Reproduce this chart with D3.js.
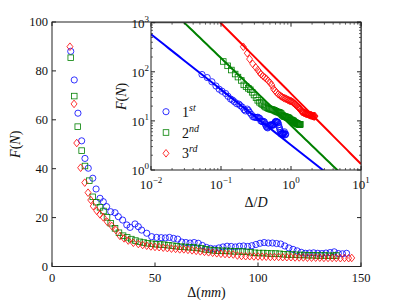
<!DOCTYPE html>
<html><head><meta charset="utf-8">
<script src="https://cdn.jsdelivr.net/npm/d3@7"></script>
<style>body{margin:0;background:#fff} text{font-family:"Liberation Serif","DejaVu Serif",serif;fill:#111}</style>
</head><body><svg id="c" width="399" height="300"></svg>
<script>
// ---------- data (main plot: Δ in mm, F in N) ----------
const blueD = [9.1,10.8,12.6,14.4,16.0,17.6,19.8,21.4,23.3,24.9,26.5,28.5,30.6,32.2,34.3,36.3,37.9,40.3,41.9,43.5,46.0,48.4,50.8,53,55,57,59,61,63,65,67,69,71,73,75,77,79,81,83,85,87,89,91,93,95,97,99,101,103,105,107,109,111,113,115,117,119,121,123,125,127,129,131,133,135,137,139,141,143];
const blueF = [88,76.3,62.7,51.4,44.2,40.2,36.1,31.7,27.9,26.5,24.5,22.4,22.0,20.4,19.0,17.0,16.0,17.4,16.3,14.9,13.6,12.2,11.9,11.8,11.7,11.9,11.5,11.2,10.0,9.8,9.6,9.8,9.5,8.6,7.8,7.4,7.2,7.6,8.0,8.3,8.2,8.0,8.3,8.4,8.2,8.5,9.0,9.5,9.8,9.6,9.6,9.4,9.2,8.4,7.6,7.0,6.4,5.8,5.4,5.5,5.6,5.4,5.3,5.5,5.7,6.0,5.3,5.2,5.4];
const greenD = [9.1,10.8,12.5,14.4,16.0,18.1,19.8,21.5,23.3,25.0,26.7,28.5,30.6,32.5,34.5,36.5,38.5,40.5,42.5,44.5,46.5,48.5,50.5,52.5,54.5,56.5,58.5,60.5,62.5,64.5,66.5,68.5,70.5,72.5,74.5,76.5,78.5,80.5,82.5,84.5,86.5,88.5,90.5,92.5,94.5,96.5,98.5,100.5,102.5,104.5,106.5,108.5,110.5,112.5,114.5,116.5,118.5,120.5,122.5,124.5,126.5,128.5,130.5,132.5,134.5,136.5,138];
const greenF = [85.4,69.7,57.2,47.4,41.1,35.1,28.5,26.3,24.2,22.7,20.1,17.7,15.6,13.8,12.6,11.9,11.2,10.6,10.1,9.8,9.5,9.3,9.1,9.0,8.9,8.7,8.5,8.3,8.1,8.0,7.9,7.8,7.6,7.4,7.0,6.8,6.6,6.5,6.4,6.4,6.3,6.2,6.2,6.1,6.0,5.8,5.6,5.5,5.5,5.4,5.3,5.3,5.2,5.0,4.9,4.9,4.8,4.7,4.7,4.6,4.6,4.5,4.5,4.5,4.4,4.4,4.5];
const redD = [8.7,10.7,12.0,13.9,15.9,17.5,18.8,20.0,21.7,23.3,24.9,26.8,29.0,31.0,33.0,35.0,37.0,39.5,41.9,44,46,48,50,52,54,56,58,60,62,64,66,68,70,72,74,76,78,80,82,84,86,88,90,92,94,96,98,100,102,104,106,108,110,112,114,116,118,120,122,124,126,128,130,132,134,136,138,140,142,144,145.5];
const redF = [89.9,66.5,50.5,40.4,34.3,30.2,27.2,24.7,22.8,21.3,20.1,18.3,16.6,14.9,12.5,11.5,10.6,9.7,9.2,8.8,8.5,8.2,8.0,7.9,7.7,7.5,7.3,7.2,7.0,7.0,6.8,6.6,6.4,6.2,6.0,5.8,5.6,5.4,5.2,5.1,5.0,4.9,4.5,4.3,4.2,4.2,4.1,4.1,4.0,4.0,3.9,3.9,3.9,3.8,3.8,3.8,3.7,3.7,3.7,3.6,3.6,3.6,3.6,3.5,3.5,3.5,3.5,3.4,3.5,3.4,3.5];

const xTicks = [0,50,100,150];
const yTicks = [0,20,40,60,80,100];
const insetXExp = [-2,-1,0,1];
const insetYExp = [0,1,2,3];
const legendMain = ["1","2","3"];
const legendSup = ["st","nd","rd"];
const colors = ["#0000ff","#008000","#ff0000"];
// inset normalisation (Δ+shift)/D and vertical offset factor per series
const insetShift = [0,2,5.6];
const insetDiam = [170,103,68.7];
const insetFactor = [1,1.9,3.6];
// power-law fits F = a (Δ/D)^b
const fitA = [3.24,8.07,36.0];
const fitB = [-1.127,-1.373,-1.434];

const series = [[blueD,blueF],[greenD,greenF],[redD,redF]];

// ---------- drawing ----------
const svg = d3.select("#c");
const M = {l:52, r:361, t:22, b:266.5};
const x = d3.scaleLinear().domain([0,150]).range([M.l,M.r]);
const y = d3.scaleLinear().domain([0,100]).range([M.b,M.t]);

function marker(g, kind, cx, cy, color){
  if(kind===0) g.append("circle").attr("cx",cx).attr("cy",cy).attr("r",3.1)
     .attr("fill","none").attr("stroke",color).attr("stroke-width",0.8);
  else if(kind===1) g.append("rect").attr("x",cx-2.8).attr("y",cy-2.8).attr("width",5.6).attr("height",5.6)
     .attr("fill","none").attr("stroke",color).attr("stroke-width",0.8);
  else g.append("path").attr("d",`M${cx},${cy-3.8}L${cx+3},${cy}L${cx},${cy+3.8}L${cx-3},${cy}Z`)
     .attr("fill","none").attr("stroke",color).attr("stroke-width",0.8);
}

const main = svg.append("g");
series.forEach((s,i)=>{
  const g = main.append("g");
  s[0].forEach((d,j)=> marker(g,i,x(d),y(s[1][j]),colors[i]));
});
// frame
main.append("rect").attr("x",M.l).attr("y",M.t).attr("width",M.r-M.l).attr("height",M.b-M.t)
  .attr("fill","none").attr("stroke","#222").attr("stroke-width",1);
// ticks
xTicks.forEach(t=>{
  main.append("line").attr("x1",x(t)).attr("x2",x(t)).attr("y1",M.b).attr("y2",M.b-4).attr("stroke","#222");
  main.append("line").attr("x1",x(t)).attr("x2",x(t)).attr("y1",M.t).attr("y2",M.t+4).attr("stroke","#222");
  main.append("text").attr("x",x(t)).attr("y",M.b+15).attr("text-anchor","middle").attr("font-size",12.5).text(t);
});
yTicks.forEach(t=>{
  main.append("line").attr("x1",M.l).attr("x2",M.l+4).attr("y1",y(t)).attr("y2",y(t)).attr("stroke","#222");
  main.append("line").attr("x1",M.r).attr("x2",M.r-4).attr("y1",y(t)).attr("y2",y(t)).attr("stroke","#222");
  main.append("text").attr("x",M.l-4).attr("y",y(t)+4).attr("text-anchor","end").attr("font-size",12.5).text(t);
});
// axis labels
const xl = main.append("text").attr("x",(M.l+M.r)/2).attr("y",297).attr("text-anchor","middle").attr("font-size",14);
xl.append("tspan").text("Δ(");
xl.append("tspan").attr("font-style","italic").text("mm");
xl.append("tspan").text(")");
const yl = main.append("text").attr("transform",`translate(20,${(M.t+M.b)/2}) rotate(-90)`).attr("text-anchor","middle").attr("font-size",14);
yl.append("tspan").attr("font-style","italic").text("F");
yl.append("tspan").text("(");
yl.append("tspan").attr("font-style","italic").text("N");
yl.append("tspan").text(")");

// ---------- inset ----------
const I = {l:151, r:361, t:22.7, b:170};
const ix = d3.scaleLog().domain([1e-2,1e1]).range([I.l,I.r]);
const iy = d3.scaleLog().domain([1,1e3]).range([I.b,I.t]);
const inset = svg.append("g");
inset.append("rect").attr("x",I.l).attr("y",I.t).attr("width",I.r-I.l).attr("height",I.b-I.t).attr("fill","#fff");
svg.append("defs").append("clipPath").attr("id","ic").append("rect")
  .attr("x",I.l).attr("y",I.t).attr("width",I.r-I.l).attr("height",I.b-I.t);
const ig = inset.append("g").attr("clip-path","url(#ic)");
series.forEach((s,i)=>{
  const g = ig.append("g");
  s[0].forEach((d,j)=>{
    const xv=(d+insetShift[i])/insetDiam[i], yv=s[1][j]*insetFactor[i];
    marker(g,i,ix(xv),iy(yv),colors[i]);
  });
});
series.forEach((s,i)=>{
  const xs = d3.range(-2,1.001,0.05).map(e=>Math.pow(10,e));
  const line = d3.line().x(d=>ix(d)).y(d=>iy(fitA[i]*Math.pow(d,fitB[i])));
  ig.append("path").attr("d",line(xs)).attr("fill","none").attr("stroke",colors[i]).attr("stroke-width",2);
});
inset.append("rect").attr("x",I.l).attr("y",I.t).attr("width",I.r-I.l).attr("height",I.b-I.t)
  .attr("fill","none").attr("stroke","#222").attr("stroke-width",1);
// inset ticks
insetXExp.forEach(e=>{
  const p = ix(Math.pow(10,e));
  inset.append("line").attr("x1",p).attr("x2",p).attr("y1",I.b).attr("y2",I.b-4).attr("stroke","#222");
  inset.append("line").attr("x1",p).attr("x2",p).attr("y1",I.t).attr("y2",I.t+4).attr("stroke","#222");
  if(e<1) for(let k=2;k<10;k++){
    const q = ix(k*Math.pow(10,e));
    inset.append("line").attr("x1",q).attr("x2",q).attr("y1",I.b).attr("y2",I.b-2).attr("stroke","#222").attr("stroke-width",0.7);
    inset.append("line").attr("x1",q).attr("x2",q).attr("y1",I.t).attr("y2",I.t+2).attr("stroke","#222").attr("stroke-width",0.7);
  }
  const t = inset.append("text").attr("x",p).attr("y",I.b+19).attr("text-anchor","middle").attr("font-size",13);
  t.append("tspan").text("10");
  t.append("tspan").attr("dy",-6).attr("font-size",9).text(e<0?"−"+(-e):String(e));
});
insetYExp.forEach(e=>{
  const p = iy(Math.pow(10,e));
  inset.append("line").attr("x1",I.l).attr("x2",I.l+4).attr("y1",p).attr("y2",p).attr("stroke","#222");
  inset.append("line").attr("x1",I.r).attr("x2",I.r-4).attr("y1",p).attr("y2",p).attr("stroke","#222");
  if(e<3) for(let k=2;k<10;k++){
    const q = iy(k*Math.pow(10,e));
    inset.append("line").attr("x1",I.l).attr("x2",I.l+2).attr("y1",q).attr("y2",q).attr("stroke","#222").attr("stroke-width",0.7);
    inset.append("line").attr("x1",I.r).attr("x2",I.r-2).attr("y1",q).attr("y2",q).attr("stroke","#222").attr("stroke-width",0.7);
  }
  const t = inset.append("text").attr("x",I.l-2).attr("y",p+5).attr("text-anchor","end").attr("font-size",13);
  t.append("tspan").text("10");
  t.append("tspan").attr("dy",-6).attr("font-size",9).text(String(e));
});
const ixl = inset.append("text").attr("x",(I.l+I.r)/2).attr("y",207).attr("text-anchor","middle").attr("font-size",14);
ixl.append("tspan").text("Δ/");
ixl.append("tspan").attr("font-style","italic").text("D");
const iyl = inset.append("text").attr("transform",`translate(126,${(I.t+I.b)/2}) rotate(-90)`).attr("text-anchor","middle").attr("font-size",14);
iyl.append("tspan").attr("font-style","italic").text("F");
iyl.append("tspan").text("(");
iyl.append("tspan").attr("font-style","italic").text("N");
iyl.append("tspan").text(")");
// legend
legendMain.forEach((m,i)=>{
  const cy = 111.7 + i*20.8;
  marker(inset,i,166,cy,colors[i]);
  const t = inset.append("text").attr("x",182).attr("y",cy+5).attr("font-size",14);
  t.append("tspan").text(m);
  t.append("tspan").attr("dy",-6).attr("font-size",10).attr("font-style","italic").text(legendSup[i]);
});
</script></body></html>
